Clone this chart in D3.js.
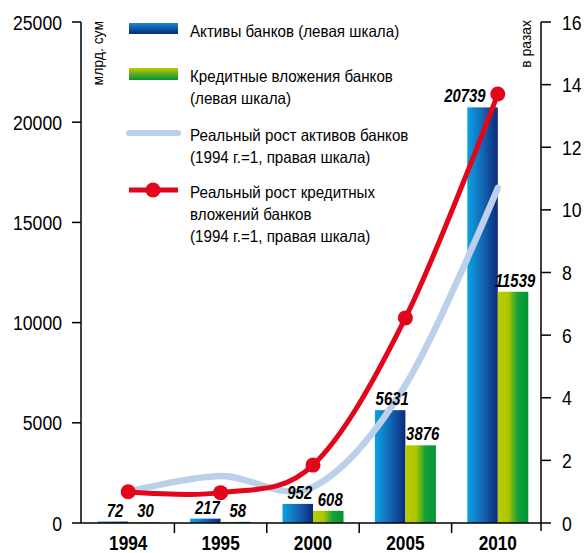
<!DOCTYPE html>
<html><head><meta charset="utf-8">
<script src="https://cdn.jsdelivr.net/npm/d3@7"></script>
<style>html,body{margin:0;padding:0;background:#fff;}svg{display:block;}</style>
</head><body><svg id="c" width="585" height="553"></svg>
<script>
const years = ['1994','1995','2000','2005','2010'];
const assets = [72, 217, 952, 5631, 20739];
const credits = [30, 58, 608, 3876, 11539];
const assetsGrowth = [1.0, 1.5, 1.15, 4.4, 10.7];
const creditsGrowth = [1.0, 0.97, 1.85, 6.55, 13.7];
const leftTicks = [0, 5000, 10000, 15000, 20000, 25000];
const rightTicks = [0, 2, 4, 6, 8, 10, 12, 14, 16];
const legendItems = [
  {type:'barA', lines:['Активы банков (левая шкала)']},
  {type:'barC', lines:['Кредитные вложения банков','(левая шкала)']},
  {type:'lineA', lines:['Реальный рост активов банков','(1994 г.=1, правая шкала)']},
  {type:'lineC', lines:['Реальный рост кредитных','вложений банков','(1994 г.=1, правая шкала)']}
];
const leftTitle = 'млрд. сум';
const rightTitle = 'в разах';

const FONT = "'Liberation Sans',Arial,sans-serif";
const svg = d3.select('#c');
const defs = svg.append('defs');
function grad(id, stops, vertical){
  const g = defs.append('linearGradient').attr('id', id)
    .attr('x1',0).attr('y1',0).attr('x2', vertical?0:1).attr('y2', vertical?1:0);
  stops.forEach(s=>g.append('stop').attr('offset',s[0]).attr('stop-color',s[1]));
}
grad('gB', [[0,'#0aa2e2'],[0.5,'#1467b4'],[1,'#0b2a7a']], false);
grad('gG', [[0,'#bccc00'],[0.35,'#acc600'],[0.65,'#16a03a'],[1,'#009636']], false);
grad('gBv', [[0,'#1a8ad0'],[0.5,'#0d58a8'],[1,'#0a2c7c']], true);
grad('gGv', [[0,'#c0cc00'],[0.5,'#5cae1e'],[1,'#00943a']], true);

// condensed text helper
function ctext(g, x, y, s, o){
  o = o || {};
  const rot = o.rotate ? ` rotate(${o.rotate})` : '';
  const t = g.append('text')
    .attr('transform', `translate(${x},${y})${rot} scale(${o.sx||0.85},1)`)
    .attr('font-family', FONT).attr('font-size', o.size||16)
    .attr('text-anchor', o.anchor||'start').attr('fill','#000').text(s);
  if (o.dy) t.attr('dy', o.dy);
  if (o.weight) t.attr('font-weight', o.weight);
  if (o.style) t.attr('font-style', o.style);
  return t;
}

const x = d3.scaleBand().domain(years).range([82, 544]);
const yL = d3.scaleLinear().domain([0, 25000]).range([523, 22]);
const yR = d3.scaleLinear().domain([0, 16]).range([523, 22]);
const bw = 30.5;
const cx = d => x(d) + x.bandwidth()/2;

// bars
const gBars = svg.append('g');
years.forEach((yr,i)=>{
  gBars.append('rect').attr('x', cx(yr)-bw).attr('y', yL(assets[i]))
    .attr('width', bw).attr('height', yL(0)-yL(assets[i])).attr('fill','url(#gB)');
  gBars.append('rect').attr('x', cx(yr)).attr('y', yL(credits[i]))
    .attr('width', bw).attr('height', yL(0)-yL(credits[i])).attr('fill','url(#gG)');
});

// axes
const axisG = svg.append('g').attr('stroke','#000').attr('stroke-width',1.5);
axisG.append('line').attr('x1',81).attr('x2',81).attr('y1',22).attr('y2',523);
axisG.append('line').attr('x1',81).attr('x2',541).attr('y1',523).attr('y2',523);
axisG.append('line').attr('x1',541).attr('x2',541).attr('y1',22).attr('y2',531);
leftTicks.forEach(t=>{
  axisG.append('line').attr('x1',72).attr('x2',81).attr('y1',yL(t)).attr('y2',yL(t));
});
rightTicks.forEach(t=>{
  axisG.append('line').attr('x1',541).attr('x2',551).attr('y1',yR(t)).attr('y2',yR(t));
});
years.slice(1).forEach(yr=>{
  axisG.append('line').attr('x1',x(yr)).attr('x2',x(yr)).attr('y1',523).attr('y2',533);
});

const txt = svg.append('g');
leftTicks.forEach(t=> ctext(txt, 62, yL(t), t, {anchor:'end', size:21, sx:0.84, dy:'0.36em'}));
rightTicks.forEach(t=> ctext(txt, 562, yR(t), t, {anchor:'start', size:21, sx:0.84, dy:'0.36em'}));
years.forEach(yr=> ctext(txt, cx(yr), 550, yr, {anchor:'middle', size:21, sx:0.82, weight:'bold'}));
ctext(txt, 103, 21, leftTitle, {anchor:'end', size:15, sx:0.93, rotate:-90});
ctext(txt, 531, 20, rightTitle, {anchor:'end', size:15, sx:0.93, rotate:-90});

// lines
const line = (ys)=> d3.line().x((d,i)=>cx(years[i])).y(d=>yR(d)).curve(d3.curveCardinal.tension(0))(ys);
svg.append('path').attr('d', line(assetsGrowth)).attr('fill','none')
  .attr('stroke','#bdd0ea').attr('stroke-width',6.5).attr('stroke-linecap','round');
svg.append('path').attr('d', line(creditsGrowth)).attr('fill','none')
  .attr('stroke','#e3051b').attr('stroke-width',5).attr('stroke-linecap','round');
creditsGrowth.forEach((v,i)=>{
  svg.append('circle').attr('cx',cx(years[i])).attr('cy',yR(v)).attr('r',7.5).attr('fill','#e3051b');
});

// value labels
const vl = svg.append('g');
const vOpt = (a)=>({anchor:a, size:17.5, sx:0.85, weight:'bold', style:'italic'});
years.forEach((yr,i)=>{
  const last = i === years.length-1;
  ctext(vl, last ? cx(yr)-bw/2+3 : cx(yr)-bw/2+2, yL(assets[i])-5, assets[i], vOpt(last?'end':'middle'));
  ctext(vl, cx(yr)+bw/2+2, yL(credits[i])-5, credits[i], vOpt('middle'));
});

// legend
const lg = svg.append('g');
const rowY = [29, 74, 133, 190];
legendItems.forEach((it,k)=>{
  const yy = rowY[k];
  if(it.type==='barA') lg.append('rect').attr('x',129).attr('y',yy-6).attr('width',49).attr('height',11).attr('fill','url(#gBv)');
  if(it.type==='barC') lg.append('rect').attr('x',129).attr('y',yy-6).attr('width',49).attr('height',12).attr('fill','url(#gGv)');
  if(it.type==='lineA') lg.append('line').attr('x1',129).attr('x2',178).attr('y1',yy).attr('y2',yy)
     .attr('stroke','#bdd0ea').attr('stroke-width',6).attr('stroke-linecap','round');
  if(it.type==='lineC'){
    lg.append('line').attr('x1',129).attr('x2',178).attr('y1',yy).attr('y2',yy).attr('stroke','#e3051b').attr('stroke-width',5);
    lg.append('circle').attr('cx',153).attr('cy',yy).attr('r',7.5).attr('fill','#e3051b');
  }
  it.lines.forEach((s,j)=> ctext(lg, 190, yy+2+j*22, s, {size:16.5, sx:0.92, dy:'0.36em'}));
});
</script></body></html>
